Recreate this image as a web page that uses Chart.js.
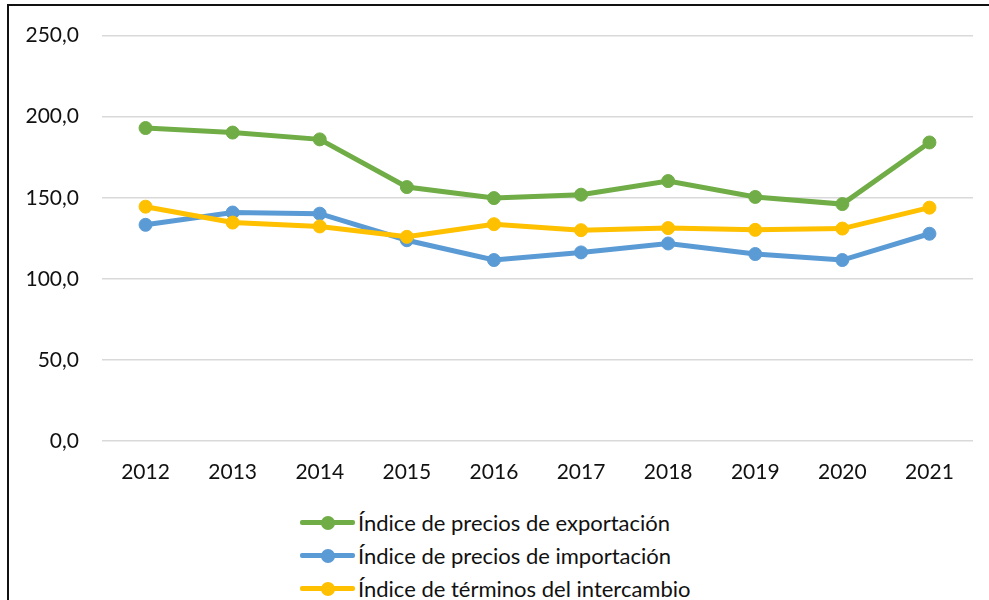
<!DOCTYPE html>
<html lang="es">
<head>
  <meta charset="UTF-8">
  <title>Índices de precios</title>
  <script src="https://cdn.jsdelivr.net/npm/chart.js"></script>
  <style>
    body { margin: 0; width: 989px; height: 600px; overflow: hidden; background: #fff; font-family: Lato, "Open Sans", sans-serif; }
    #frame { position: absolute; left: 7px; top: 4px; width: 1100px; height: 700px; border-left: 2px solid #111; border-top: 2px solid #111; }
    #wrap { position: absolute; left: 0; top: 0; width: 989px; height: 500px; }
    #legend { position: absolute; left: 300px; top: 506px; margin: 0; padding: 0; list-style: none; }
    #legend li { display: flex; align-items: center; height: 33px; font-size: 22px; color: #111; }
    .sym { position: relative; width: 55px; height: 5px; margin-right: 3px; border-radius: 2px; }
    .dot { position: absolute; left: 21px; top: -4.5px; width: 14px; height: 14px; border-radius: 50%; }
  </style>
</head>
<body>
  <div id="frame"></div>
  <div id="wrap"><canvas id="chart"></canvas></div>
  <ul id="legend"></ul>
  <script>
    // data
    const years = ['2012', '2013', '2014', '2015', '2016', '2017', '2018', '2019', '2020', '2021'];
    const exportIdx = [193.0, 190.2, 186.0, 156.6, 149.8, 151.9, 160.3, 150.5, 146.1, 184.1];
    const importIdx = [133.3, 140.9, 140.2, 123.8, 111.6, 116.3, 121.8, 115.3, 111.6, 127.8];
    const termsIdx = [144.5, 134.7, 132.3, 125.9, 133.7, 130.0, 131.3, 130.2, 131.0, 143.9];
    const seriesNames = ['Índice de precios de exportación', 'Índice de precios de importación', 'Índice de términos del intercambio'];
    const seriesColors = ['#70AD47', '#5B9BD5', '#FFC000'];

    // html legend, stacked one item per row like the original
    const htmlLegend = {
      id: 'htmlLegend',
      afterUpdate(chart) {
        const ul = document.getElementById('legend');
        ul.innerHTML = '';
        chart.data.datasets.forEach(ds => {
          const li = document.createElement('li');
          const sym = document.createElement('span');
          sym.className = 'sym';
          sym.style.background = ds.borderColor;
          const dot = document.createElement('span');
          dot.className = 'dot';
          dot.style.background = ds.borderColor;
          sym.appendChild(dot);
          const txt = document.createElement('span');
          txt.textContent = ds.label;
          li.appendChild(sym);
          li.appendChild(txt);
          ul.appendChild(li);
        });
      }
    };

    function makeSet(i, values, order) {
      return {
        label: seriesNames[i],
        data: values,
        borderColor: seriesColors[i],
        backgroundColor: seriesColors[i],
        borderWidth: 5,
        pointRadius: 6.5,
        pointBorderWidth: 1,
        pointHoverRadius: 6.5,
        tension: 0,
        order: order
      };
    }

    const ctx = document.getElementById('chart').getContext('2d');
    const chart = new Chart(ctx, {
      type: 'line',
      data: {
        labels: years,
        datasets: [
          makeSet(0, exportIdx, 3),
          makeSet(1, importIdx, 2),
          makeSet(2, termsIdx, 1)
        ]
      },
      options: {
        responsive: true,
        maintainAspectRatio: false,
        animation: false,
        layout: { padding: { top: 34, right: 16, left: 0, bottom: 0 } },
        plugins: {
          legend: { display: false },
          tooltip: { enabled: false }
        },
        scales: {
          x: {
            offset: true,
            grid: { display: false, drawTicks: false },
            border: { display: false },
            ticks: { color: '#111', padding: 19, font: { family: 'Lato', size: 21 } },
            afterFit: s => { s.height = 59; }
          },
          y: {
            min: 0,
            max: 250,
            grid: { color: '#d9d9d9', lineWidth: 1.5, drawTicks: false },
            border: { display: false },
            ticks: {
              stepSize: 50,
              color: '#111',
              padding: 23,
              font: { family: 'Lato', size: 21 },
              callback: v => v.toFixed(1).replace('.', ',')
            },
            afterFit: s => { s.width = 102; }
          }
        }
      },
      plugins: [htmlLegend]
    });
  </script>
</body>
</html>
